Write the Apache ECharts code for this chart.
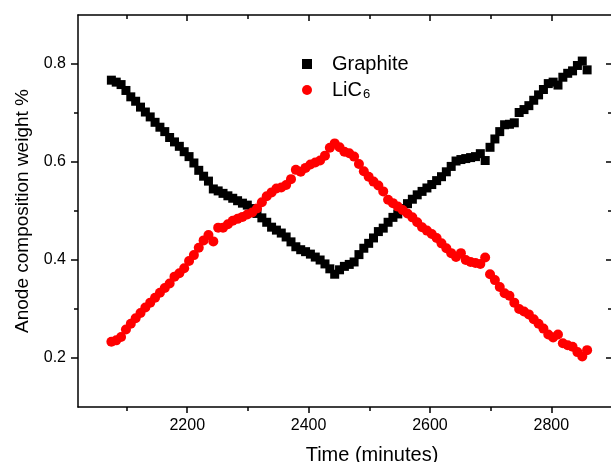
<!DOCTYPE html>
<html lang="en">
<head>
    <meta charset="UTF-8">
    <title>Anode composition</title>
    <script src="https://cdn.jsdelivr.net/npm/echarts@6/dist/echarts.min.js"></script>
    <style>
        html, body { margin: 0; padding: 0; background: #fff; }
        #main { width: 611px; height: 462px; }
    </style>
</head>
<body>
<div id="main"></div>
<script type="text/javascript">
    // time (minutes)
    var times = [2075, 2083, 2091, 2099, 2107, 2115, 2123, 2131, 2139, 2147,
        2155, 2163, 2171, 2179, 2187, 2195, 2203, 2211, 2219, 2227,
        2235, 2243, 2251, 2259, 2267, 2275, 2283, 2291, 2299, 2307,
        2315, 2323, 2331, 2339, 2347, 2355, 2363, 2371, 2379, 2387,
        2395, 2403, 2411, 2419, 2427, 2435, 2443, 2451, 2459, 2467,
        2475, 2483, 2491, 2499, 2507, 2515, 2523, 2531, 2539, 2547,
        2555, 2563, 2571, 2579, 2587, 2595, 2603, 2611, 2619, 2627,
        2635, 2643, 2651, 2659, 2667, 2675, 2683, 2691, 2699, 2707,
        2715, 2723, 2731, 2739, 2747, 2755, 2763, 2771, 2779, 2787,
        2795, 2803, 2811, 2819, 2827, 2835, 2843, 2851, 2859];

    var graphite = [0.767, 0.763, 0.758, 0.746, 0.733, 0.724, 0.712, 0.702, 0.692, 0.681,
        0.671, 0.662, 0.650, 0.641, 0.632, 0.621, 0.611, 0.598, 0.583, 0.571,
        0.561, 0.545, 0.541, 0.536, 0.531, 0.526, 0.521, 0.516, 0.512, 0.505,
        0.495, 0.486, 0.477, 0.467, 0.461, 0.455, 0.447, 0.437, 0.427, 0.421,
        0.417, 0.412, 0.406, 0.400, 0.392, 0.382, 0.371, 0.380, 0.387, 0.391,
        0.396, 0.411, 0.424, 0.434, 0.445, 0.458, 0.465, 0.477, 0.487, 0.494,
        0.505, 0.515, 0.524, 0.533, 0.540, 0.547, 0.554, 0.562, 0.570, 0.580,
        0.591, 0.602, 0.605, 0.607, 0.609, 0.611, 0.617, 0.603, 0.630, 0.647,
        0.662, 0.676, 0.677, 0.680, 0.701, 0.707, 0.715, 0.726, 0.737, 0.748,
        0.760, 0.763, 0.757, 0.773, 0.781, 0.786, 0.797, 0.806, 0.788];

    var lic6 = [0.233, 0.236, 0.243, 0.258, 0.270, 0.281, 0.292, 0.303, 0.313, 0.323,
        0.333, 0.343, 0.352, 0.366, 0.373, 0.383, 0.398, 0.410, 0.425, 0.440,
        0.451, 0.438, 0.466, 0.466, 0.473, 0.480, 0.484, 0.488, 0.493, 0.497,
        0.505, 0.518, 0.530, 0.538, 0.546, 0.548, 0.553, 0.565, 0.584, 0.580,
        0.588, 0.595, 0.599, 0.603, 0.613, 0.629, 0.638, 0.630, 0.621, 0.618,
        0.611, 0.596, 0.581, 0.570, 0.560, 0.552, 0.540, 0.523, 0.516, 0.509,
        0.502, 0.495, 0.487, 0.477, 0.467, 0.460, 0.453, 0.445, 0.434, 0.424,
        0.414, 0.406, 0.414, 0.400, 0.396, 0.394, 0.392, 0.405, 0.371, 0.359,
        0.345, 0.332, 0.327, 0.313, 0.300, 0.295, 0.289, 0.279, 0.270, 0.260,
        0.248, 0.242, 0.248, 0.230, 0.226, 0.223, 0.212, 0.203, 0.216];

    var xMajor = [2200, 2400, 2600, 2800];
    var xMinor = [2100, 2300, 2500, 2700];
    var yMajor = [0.2, 0.4, 0.6, 0.8];
    var yMinor = [0.3, 0.5, 0.7];

    var myChart = echarts.init(document.getElementById('main'));

    function pairs(vals) {
        var res = [];
        for (var i = 0; i < times.length; i++) {
            res.push([times[i], vals[i]]);
        }
        return res;
    }

    var lineStyle = {color: '#000', width: 1.5};
    var font = 'Liberation Sans, Arial, sans-serif';

    // one axis per tick set (major / minor, outer / mirrored)
    function xAx(pos, ticks, len, inside, show) {
        return {
            type: 'value', min: 2020, max: 2900, position: pos,
            axisLine: {show: show, onZero: false, lineStyle: lineStyle},
            axisTick: {show: true, inside: inside, length: len, customValues: ticks, lineStyle: lineStyle},
            axisLabel: {show: false},
            splitLine: {show: false}
        };
    }
    function yAx(pos, ticks, len, inside, show) {
        return {
            type: 'value', min: 0.1, max: 0.9, position: pos,
            axisLine: {show: show, onZero: false, lineStyle: lineStyle},
            axisTick: {show: true, inside: inside, length: len, customValues: ticks, lineStyle: lineStyle},
            axisLabel: {show: false},
            splitLine: {show: false}
        };
    }

    var xBottom = xAx('bottom', xMajor, 6, false, true);
    xBottom.axisLabel = {show: true, customValues: xMajor, fontSize: 16, color: '#000', fontFamily: font, margin: 11,
        formatter: function (v) { return String(v); }};
    xBottom.name = 'Time (minutes)';
    xBottom.nameLocation = 'middle';
    xBottom.nameGap = 38;
    xBottom.nameTextStyle = {fontSize: 20, color: '#000', fontFamily: font, padding: [0, 0, 0, 54]};

    var yLeft = yAx('left', yMajor, 7, false, true);
    yLeft.axisLabel = {show: true, customValues: yMajor, fontSize: 16, color: '#000', fontFamily: font, margin: 12,
        formatter: function (v) { return v.toFixed(1); }};
    yLeft.name = 'Anode composition weight %';
    yLeft.nameLocation = 'middle';
    yLeft.nameGap = 46;
    yLeft.nameTextStyle = {fontSize: 19, color: '#000', fontFamily: font};

    var option = {
        animation: false,
        backgroundColor: '#fff',
        grid: {left: 78, top: 15, right: -1, bottom: 55, outerBoundsMode: 'none'},
        legend: {
            orient: 'vertical',
            left: 297,
            top: 49,
            itemWidth: 10,
            itemHeight: 10,
            itemGap: 2,
            data: ['Graphite', 'LiC6'],
            formatter: function (name) {
                if (name === 'LiC6') return '{n|LiC}{s|6}';
                return '{n|' + name + '}';
            },
            textStyle: {
                color: '#000',
                fontFamily: font,
                padding: [0, 0, 0, 15],
                rich: {
                    n: {fontSize: 20, lineHeight: 22, fontFamily: font, color: '#000'},
                    s: {fontSize: 13, lineHeight: 12, fontFamily: font, color: '#000', verticalAlign: 'bottom', padding: [12, 0, 0, 1]}
                }
            }
        },
        xAxis: [
            xBottom,
            xAx('bottom', xMinor, 4, false, false),
            xAx('top', xMajor, 6, true, true),
            xAx('top', xMinor, 4, true, false)
        ],
        yAxis: [
            yLeft,
            yAx('left', yMinor, 4, false, false),
            yAx('right', yMajor, 6, true, true),
            yAx('right', yMinor, 4, true, false)
        ],
        series: [
            {
                name: 'Graphite',
                type: 'scatter',
                symbol: 'rect',
                symbolSize: 9,
                itemStyle: {color: '#000', opacity: 1},
                data: pairs(graphite)
            },
            {
                name: 'LiC6',
                type: 'scatter',
                symbol: 'circle',
                symbolSize: 10,
                itemStyle: {color: '#ff0000', opacity: 1},
                data: pairs(lic6)
            }
        ]
    };

    myChart.setOption(option);
</script>
</body>
</html>
